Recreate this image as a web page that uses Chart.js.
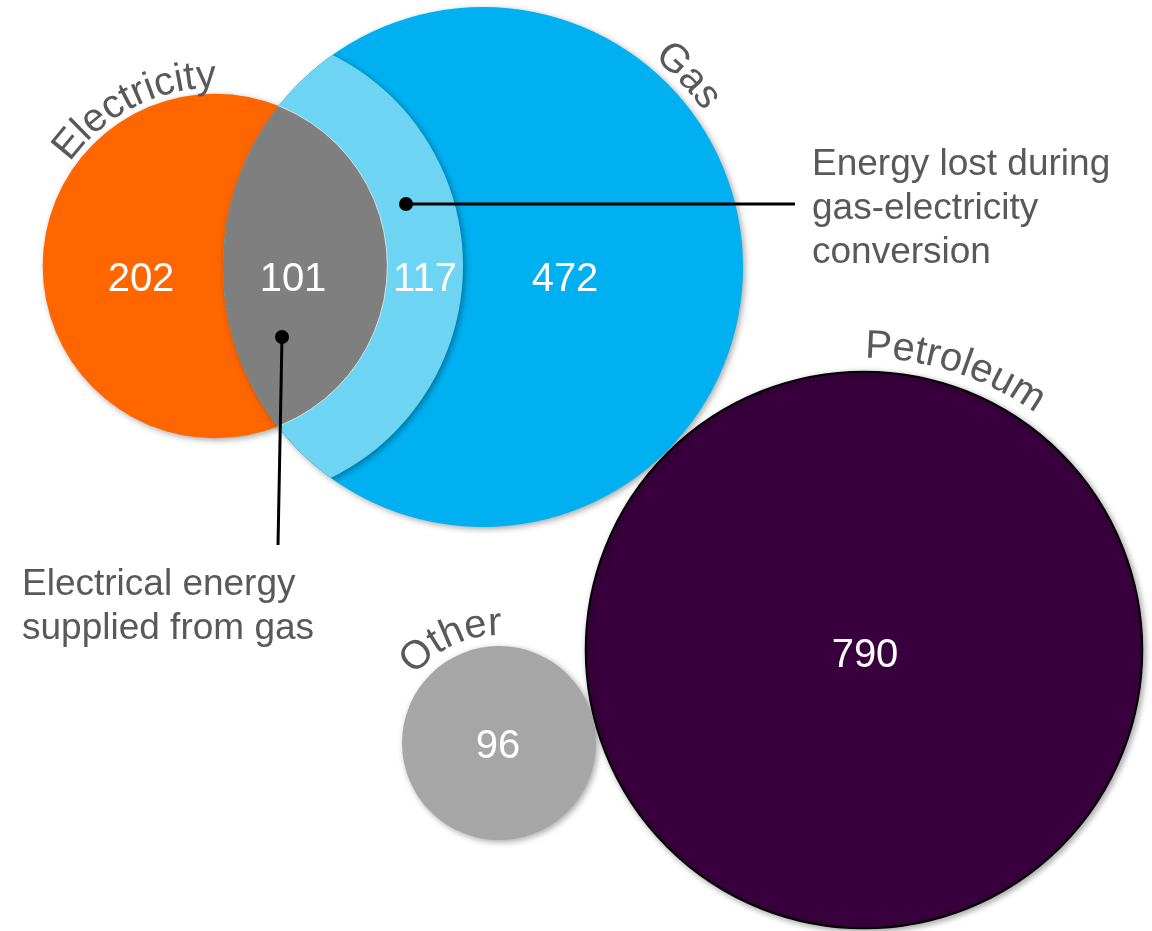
<!DOCTYPE html>
<html>
<head>
<meta charset="utf-8">
<script src="https://cdn.jsdelivr.net/npm/chart.js@4.4.1/dist/chart.umd.min.js"></script>
<style>
  html, body { margin: 0; padding: 0; background: #ffffff; }
  #wrap { width: 1152px; height: 931px; position: relative; }
</style>
</head>
<body>
<div id="wrap"><canvas id="chart"></canvas></div>
<script>
// ---------------- DATA ----------------
const categories = ['Electricity', 'Gas', 'Petroleum', 'Other'];
const segmentNames = ['Electricity only', 'Electrical energy supplied from gas',
  'Energy lost during gas-electricity conversion', 'Gas only', 'Petroleum', 'Other'];
const segmentValues = [202, 101, 117, 472, 790, 96];
const annotationTexts = [
  ['Energy lost during', 'gas-electricity', 'conversion'],
  ['Electrical energy', 'supplied from gas']
];
// circle area is proportional to each category total
const categoryTotals = [
  segmentValues[0] + segmentValues[1],                    // Electricity 303
  segmentValues[1] + segmentValues[2] + segmentValues[3], // Gas 690
  segmentValues[4],                                       // Petroleum 790
  segmentValues[5]                                        // Other 96
];

// ---------------- LAYOUT (positions / sizes / styles) ----------------
const layout = {
  pxPerSqrtUnit: 9.9,
  centers: { Electricity: [215, 266], Gas: [483, 267], Petroleum: [864, 650], Other: [499, 743] },
  lossCircle: { center: [227, 266], radius: 236 },
  colors: { Electricity: '#FF6600', Gas: '#00B0F0', Loss: '#6DD4F4', Overlap: '#7F7F7F',
            Petroleum: '#38003C', Other: '#A6A6A6', text: '#595959' },
  // value label anchors (text baseline centre)
  valueLabelPos: [[141, 291], [293, 291], [425, 291], [565, 291], [865, 667], [498, 758]],
  // arc labels: centre angle (deg) and gap between circle and baseline
  arcLabels: { Electricity: [-117, 6], Gas: [-43, 10], Petroleum: [-72, 14], Other: [-115, 11] },
  annotations: [
    { dot: [406, 204], lineTo: [795, 204], text: [812, 175] },
    { dot: [282, 337], lineTo: [278, 545], text: [22, 595] }
  ],
  lineHeight: 44
};
const FONT = '"Liberation Sans", Arial, Helvetica, sans-serif';
const radiusOf = v => layout.pxPerSqrtUnit * Math.sqrt(v);

const pt = (name, i) => ({ x: layout.centers[name][0], y: layout.centers[name][1], r: radiusOf(categoryTotals[i]) });

const datasets = [
  { label: 'Electricity', data: [pt('Electricity', 0)], backgroundColor: layout.colors.Electricity,
    borderWidth: 0, order: 6, shadow: true },
  { label: 'Gas', data: [pt('Gas', 1)], backgroundColor: layout.colors.Gas,
    borderWidth: 0, order: 5, shadow: true },
  { label: 'Loss', data: [{ x: layout.lossCircle.center[0], y: layout.lossCircle.center[1], r: layout.lossCircle.radius }],
    backgroundColor: layout.colors.Loss, borderWidth: 0, order: 4, shadow: true, clipTo: ['Gas'] },
  { label: 'Overlap', data: [pt('Electricity', 0)], backgroundColor: layout.colors.Overlap,
    borderColor: 'rgba(235,235,235,0.8)', borderWidth: 1, order: 3, clipTo: ['Gas'] },
  { label: 'Petroleum', data: [pt('Petroleum', 2)], backgroundColor: layout.colors.Petroleum,
    borderColor: '#000000', borderWidth: 2, order: 2, shadow: true },
  { label: 'Other', data: [pt('Other', 3)], backgroundColor: layout.colors.Other,
    borderWidth: 0, order: 1, shadow: true }
];

function elOf(chart, label) {
  const idx = chart.data.datasets.findIndex(d => d.label === label);
  return chart.getDatasetMeta(idx).data[0];
}

const regionPlugin = {
  id: 'regions',
  beforeDatasetDraw(chart, args) {
    const ds = chart.data.datasets[args.index];
    const ctx = chart.ctx;
    ctx.save();
    (ds.clipTo || []).forEach(name => {
      const el = elOf(chart, name);
      ctx.beginPath();
      ctx.arc(el.x, el.y, el.options.radius, 0, Math.PI * 2);
      ctx.clip();
    });
    if (ds.shadow) {
      ctx.shadowColor = 'rgba(0,0,0,0.35)';
      ctx.shadowBlur = 6;
      ctx.shadowOffsetX = 2;
      ctx.shadowOffsetY = 2;
    }
  },
  afterDatasetDraw(chart) { chart.ctx.restore(); }
};

function drawArcText(ctx, text, cx, cy, R, centerDeg) {
  const widths = [...text].map(c => ctx.measureText(c).width);
  const total = widths.reduce((a, b) => a + b, 0);
  const c0 = centerDeg * Math.PI / 180;
  let acc = 0;
  [...text].forEach((ch, i) => {
    const a = c0 + (acc + widths[i] / 2 - total / 2) / R;
    ctx.save();
    ctx.translate(cx + R * Math.cos(a), cy + R * Math.sin(a));
    ctx.rotate(a + Math.PI / 2);
    ctx.fillText(ch, 0, 0);
    ctx.restore();
    acc += widths[i];
  });
}

const textPlugin = {
  id: 'texts',
  afterDraw(chart) {
    const ctx = chart.ctx;
    const sx = chart.scales.x, sy = chart.scales.y;
    const P = p => [sx.getPixelForValue(p[0]), sy.getPixelForValue(p[1])];
    ctx.save();
    // value labels
    ctx.fillStyle = '#FFFFFF';
    ctx.font = '40px ' + FONT;
    ctx.textAlign = 'center';
    ctx.textBaseline = 'alphabetic';
    segmentValues.forEach((v, i) => {
      const [x, y] = P(layout.valueLabelPos[i]);
      ctx.fillText(String(v), x, y);
    });
    // curved category labels
    ctx.fillStyle = layout.colors.text;
    ctx.font = '40px ' + FONT;
    categories.forEach(name => {
      const el = elOf(chart, name);
      const [ang, gap] = layout.arcLabels[name];
      drawArcText(ctx, name, el.x, el.y, el.options.radius + gap, ang);
    });
    // annotations
    layout.annotations.forEach((a, i) => {
      const [dx, dy] = P(a.dot), [lx, ly] = P(a.lineTo), [tx, ty] = P(a.text);
      ctx.strokeStyle = '#000000';
      ctx.lineWidth = 3;
      ctx.beginPath(); ctx.moveTo(dx, dy); ctx.lineTo(lx, ly); ctx.stroke();
      ctx.fillStyle = '#000000';
      ctx.beginPath(); ctx.arc(dx, dy, 7, 0, Math.PI * 2); ctx.fill();
      ctx.fillStyle = layout.colors.text;
      ctx.font = '37px ' + FONT;
      ctx.textAlign = 'left';
      annotationTexts[i].forEach((line, j) => ctx.fillText(line, tx, ty + j * layout.lineHeight));
    });
    ctx.restore();
  }
};

new Chart(document.getElementById('chart'), {
  type: 'bubble',
  data: { datasets },
  options: {
    responsive: true,
    maintainAspectRatio: false,
    animation: false,
    events: [],
    clip: false,
    layout: { padding: 0, autoPadding: false },
    scales: {
      x: { type: 'linear', min: 0, max: 1152, display: false },
      y: { type: 'linear', min: 0, max: 931, reverse: true, display: false }
    },
    plugins: { legend: { display: false }, tooltip: { enabled: false } }
  },
  plugins: [regionPlugin, textPlugin]
});
</script>
</body>
</html>
